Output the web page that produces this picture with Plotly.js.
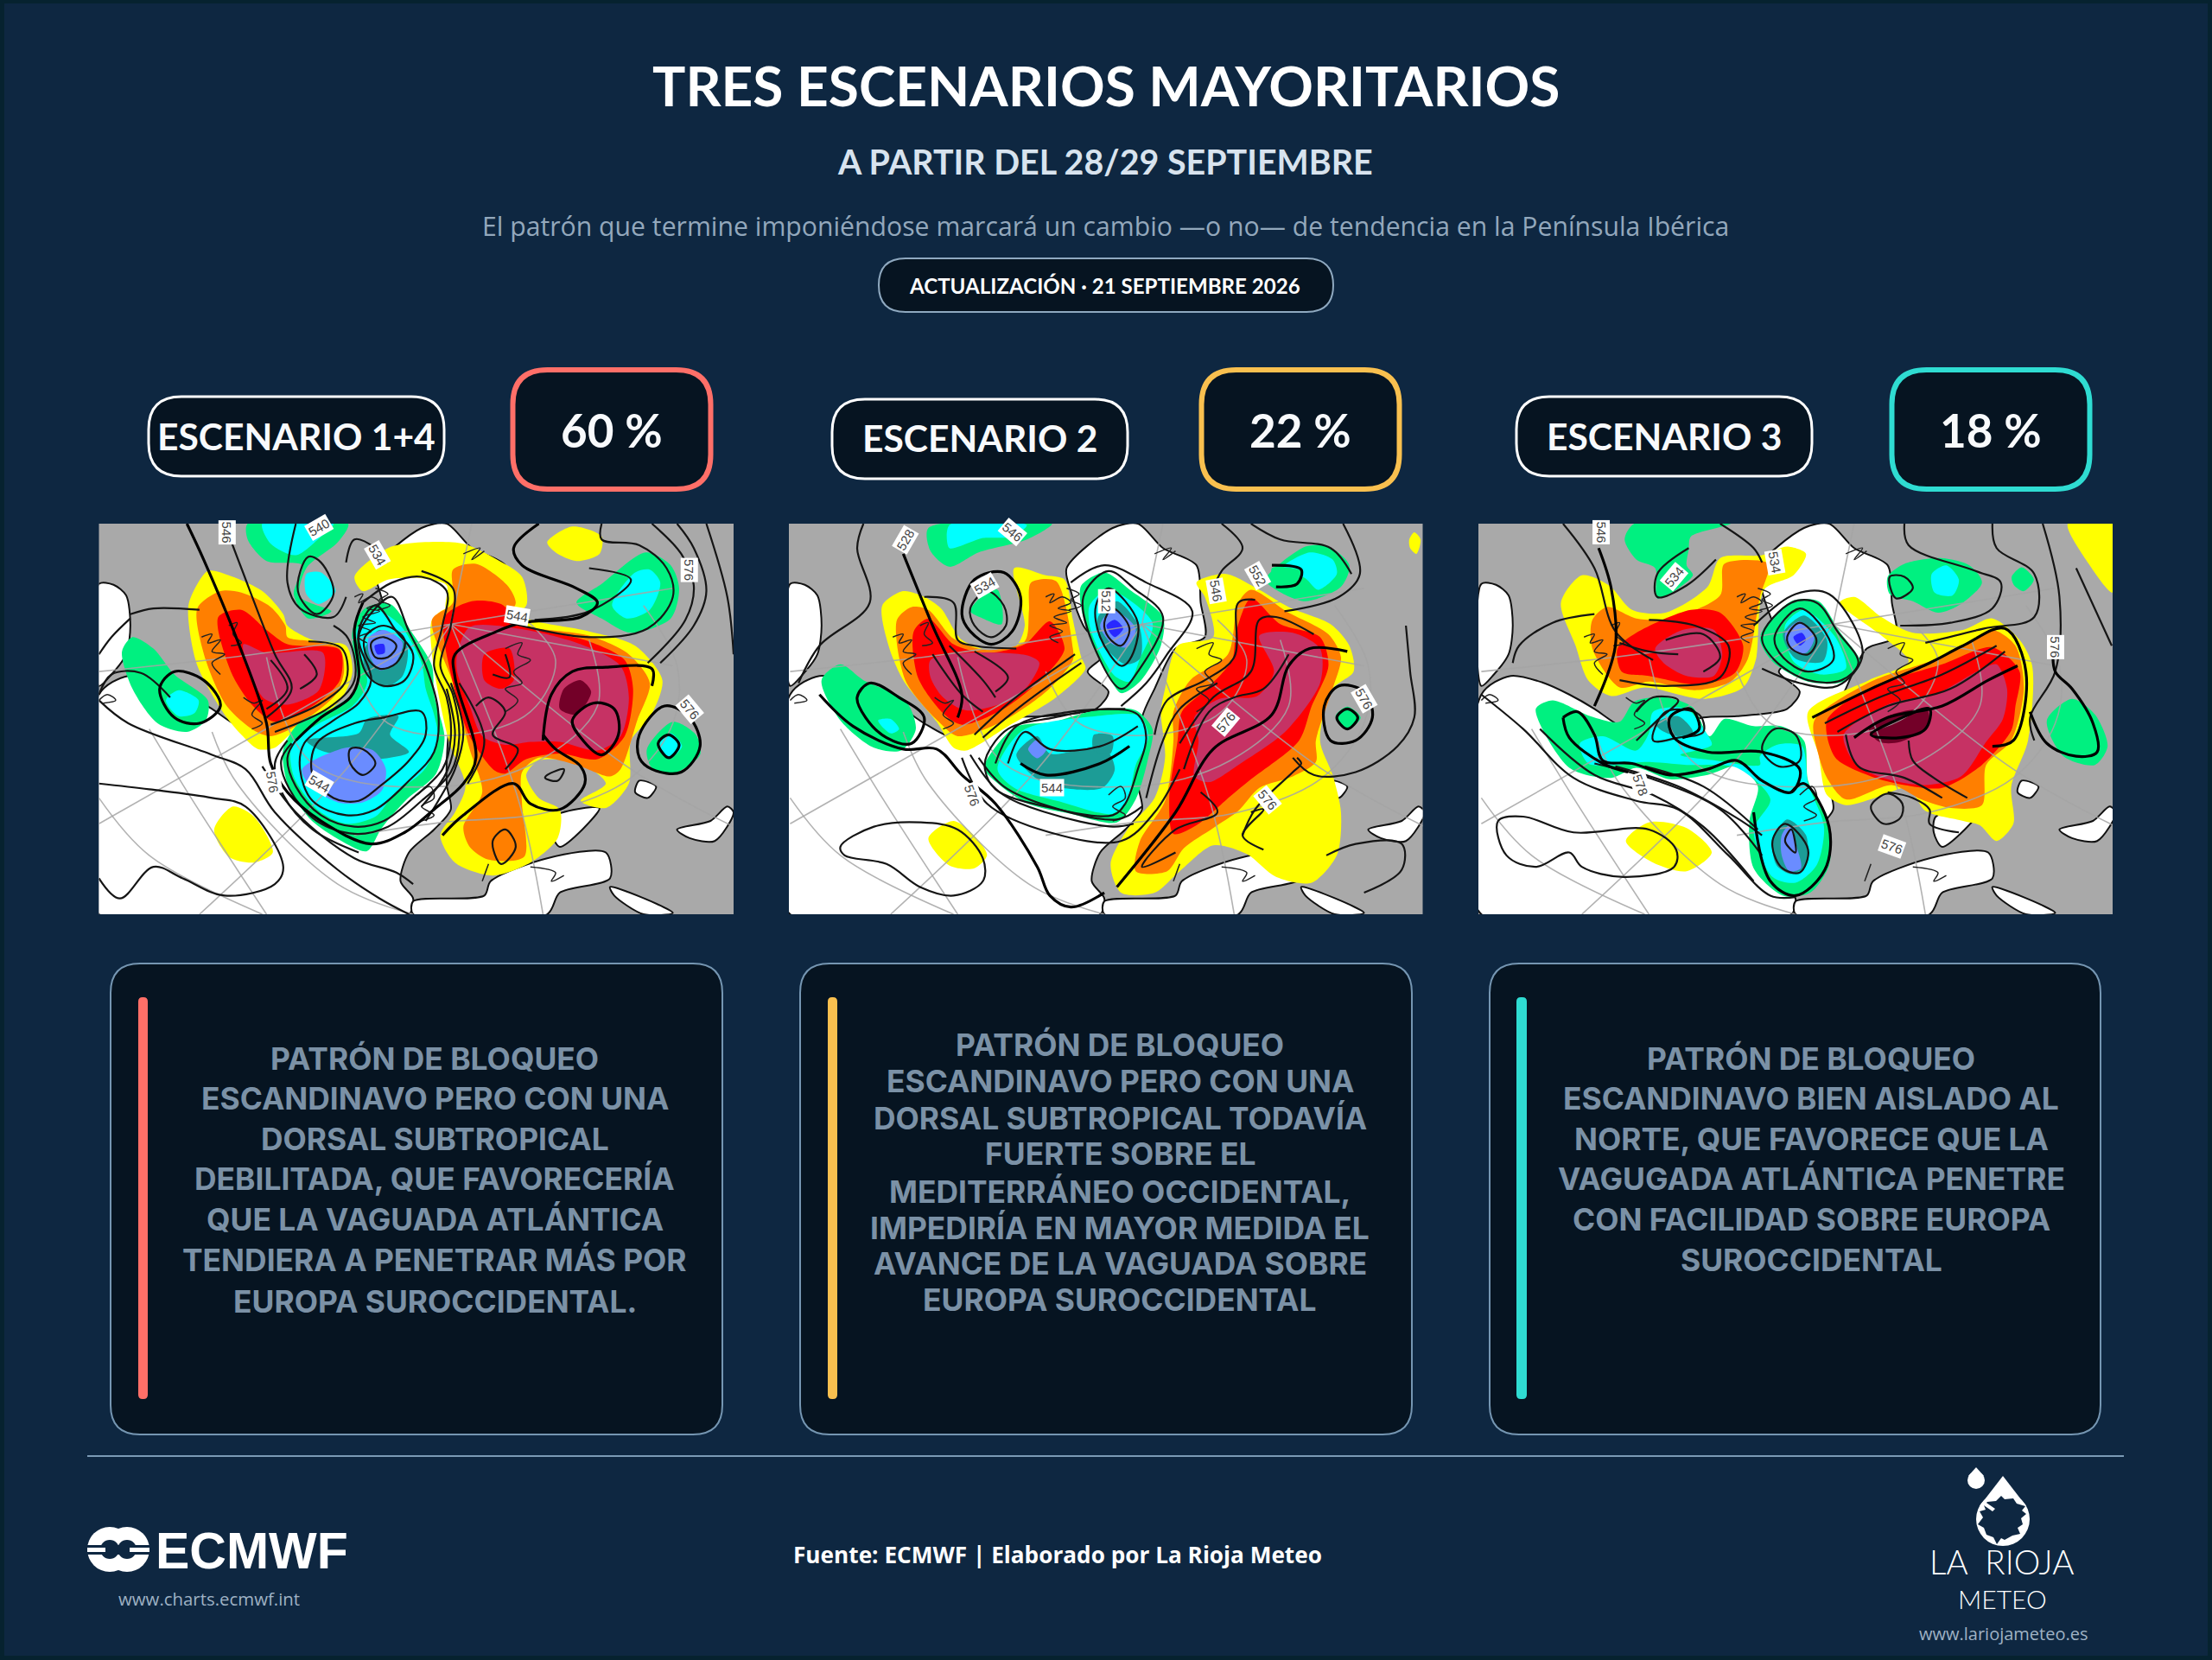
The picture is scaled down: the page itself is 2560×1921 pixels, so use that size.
<!DOCTYPE html>
<html>
<head>
<meta charset="utf-8">
<script src="https://cdn.plot.ly/plotly-3.0.1.min.js"></script>
<style>
html, body { margin: 0; padding: 0; background: #0e2741; }
#chart { width: 2560px; height: 1921px; }
.subplot .plot { filter: blur(1px); }
</style>
</head>
<body>
<div id="chart"></div>
<script>
// texts
var scenarioNames = ["ESCENARIO 1+4", "ESCENARIO 2", "ESCENARIO 3"];
var scenarioShares = ["60 %", "22 %", "18 %"];
var scenarioColors = ["#ff6f68", "#f9c04f", "#2fdcd2"];
var card1Lines = ["PATRÓN DE BLOQUEO", "ESCANDINAVO PERO CON UNA", "DORSAL SUBTROPICAL", "DEBILITADA, QUE FAVORECERÍA", "QUE LA VAGUADA ATLÁNTICA", "TENDIERA A PENETRAR MÁS POR", "EUROPA SUROCCIDENTAL."];
var card2Lines = ["PATRÓN DE BLOQUEO", "ESCANDINAVO PERO CON UNA", "DORSAL SUBTROPICAL TODAVÍA", "FUERTE SOBRE EL", "MEDITERRÁNEO OCCIDENTAL,", "IMPEDIRÍA EN MAYOR MEDIDA EL", "AVANCE DE LA VAGUADA SOBRE", "EUROPA SUROCCIDENTAL"];
var card3Lines = ["PATRÓN DE BLOQUEO", "ESCANDINAVO BIEN AISLADO AL", "NORTE, QUE FAVORECE QUE LA", "VAGUGADA ATLÁNTICA PENETRE", "CON FACILIDAD SOBRE EUROPA", "SUROCCIDENTAL"];

// base map, same for the three panels
var seaAreas = [
  [[30,255],[65,258],[95,295],[105,400],[95,500],[60,570],[30,610],[30,255]],
  [[30,640],[100,575],[180,600],[240,640],[300,690],[350,740],[420,790],[470,760],[560,720],[640,715],[760,690],[790,630],[740,560],[780,500],[730,400],[700,280],[690,200],[800,60],[860,45],[920,130],[1000,190],[1010,320],[1020,440],[950,480],[900,620],[870,720],[860,950],[870,1040],[830,1110],[770,1190],[750,1290],[780,1350],[770,1405],[30,1405],[30,640]],
  [[780,1360],[950,1340],[965,1290],[1100,1210],[1240,1190],[1250,1280],[1130,1330],[1100,1405],[780,1405],[780,1360]],
  [[1250,1310],[1400,1400],[1330,1405],[1260,1340],[1250,1310]],
  [[1410,1110],[1490,1080],[1530,1030],[1545,1050],[1500,1150],[1440,1140],[1410,1110]],
  [[1320,940],[1360,960],[1340,1000],[1310,980],[1320,940]],
  [[1115,1065],[1225,1035],[1130,1170],[1110,1120],[1115,1065]]
];
var coastLines = [
  [[640,300],[660,290],[650,320],[680,300],[700,320],[670,340],[700,350],[660,370],[690,390],[650,400],[680,420],[650,440],[670,460]],
  [[690,270],[720,290],[700,310],[725,330],[695,345]],
  [[275,440],[300,430],[290,460],[320,450],[300,490],[330,500],[300,530],[320,570]],
  [[340,400],[360,390],[350,430],[370,460],[345,470]],
  [[375,650],[400,670],[420,660],[395,710],[420,740],[395,760]],
  [[1000,480],[1040,460],[1030,500],[1060,520],[1020,560],[1040,600],[1000,620],[1030,660],[1000,700]],
  [[790,990],[820,960],[830,1000],[800,1030],[830,1060],[800,1080]],
  [[900,150],[940,130],[920,170],[950,140]],
  [[30,660],[50,640],[70,660],[40,670]],
  [[960,1230],[950,1270],[945,1290]],
  [[1060,1240],[1120,1260],[1110,1290],[1140,1270]]
];
var graticule = [
  [[870,395],[400,500],[30,560]],
  [[870,395],[380,800],[30,1090]],
  [[870,395],[620,900],[270,1405]],
  [[870,395],[1030,1000],[1090,1405]],
  [[870,395],[1300,900],[1545,1100]],
  [[870,395],[1400,540]],
  [[870,395],[1400,270]],
  [[870,395],[920,45]],
  [[150,760],[250,1000],[430,1405]],
  [[300,770],[360,950],[600,1300],[780,1405]],
  [[30,1000],[150,1200],[420,1405]],
  [[640,1130],[850,1085],[1100,1050],[1300,930],[1400,740],[1410,540],[1330,330]],
  [[430,510],[540,880],[850,960],[1080,870],[1220,680],[1200,450]],
  [[640,560],[720,740],[900,780],[1060,700],[1120,520],[1050,380]]
];

// map 1: fills
var m1Yellow = [
  [[245,320],[290,210],[340,225],[420,280],[470,360],[480,400],[540,450],[620,470],[635,560],[615,640],[560,725],[490,775],[450,825],[410,830],[370,780],[330,710],[265,540],[245,400],[245,320]],
  [[640,230],[720,130],[800,110],[900,115],[980,170],[1040,230],[1050,330],[1000,370],[860,350],[860,260],[800,235],[720,240],[660,280],[640,230]],
  [[825,500],[825,380],[860,340],[1010,340],[1060,380],[1200,420],[1310,470],[1375,590],[1345,720],[1300,800],[1295,950],[1240,1035],[1180,1010],[1240,950],[1180,880],[1080,870],[1050,920],[1080,1000],[1130,1040],[1125,1140],[1060,1225],[970,1270],[880,1225],[845,1130],[880,1050],[905,960],[865,800],[825,500]],
  [[1100,110],[1160,55],[1230,90],[1225,150],[1170,175],[1120,145],[1100,110]],
  [[305,1110],[350,1030],[400,1065],[445,1190],[400,1225],[340,1205],[305,1110]]
];
var m1Orange = [
  [[265,340],[320,280],[370,285],[440,335],[475,400],[480,440],[540,455],[605,480],[615,560],[595,640],[505,745],[440,785],[400,765],[335,680],[285,520],[265,340]],
  [[825,380],[875,320],[875,205],[930,185],[1005,260],[1025,320],[1005,385],[1200,435],[1295,500],[1345,600],[1315,730],[1275,900],[1250,925],[1170,885],[1080,860],[1040,910],[1040,1020],[1045,1205],[960,1215],[915,1170],[900,1100],[945,980],[915,830],[875,600],[825,380]]
];
var m1Red = [
  [[315,370],[370,345],[430,415],[480,465],[605,485],[605,590],[545,675],[450,735],[395,675],[345,560],[315,370]],
  [[855,370],[920,315],[990,325],[1040,395],[1200,455],[1285,520],[1305,620],[1285,785],[1220,865],[1130,845],[1050,865],[1000,915],[975,905],[915,785],[875,600],[855,370]]
];
var m1Crimson = [
  [[375,465],[430,495],[565,495],[555,625],[480,675],[425,655],[395,580],[375,465]],
  [[885,500],[915,405],[1050,415],[1180,465],[1275,540],[1295,650],[1275,785],[1220,835],[1130,805],[1060,805],[1000,815],[945,785],[915,680],[885,560],[885,500]]
];
var m1RedPatch = [[[950,500],[1010,480],[1020,590],[990,620],[950,590],[950,500]]];
var m1Maroon = [[[1140,620],[1180,590],[1205,630],[1170,710],[1130,690],[1140,620]]];
var m1Green = [
  [[85,490],[110,440],[160,480],[210,570],[290,660],[285,730],[240,770],[170,740],[110,620],[85,490]],
  [[385,45],[625,45],[600,110],[525,200],[510,300],[585,350],[530,375],[495,290],[515,190],[430,175],[385,100],[385,45]],
  [[635,420],[665,340],[725,325],[780,430],[825,540],[830,640],[855,790],[835,915],[765,1005],[705,1105],[670,1185],[615,1155],[535,1075],[480,950],[470,830],[510,735],[590,685],[645,620],[635,420]],
  [[1170,320],[1230,255],[1335,145],[1395,190],[1415,270],[1395,375],[1300,425],[1230,375],[1170,320]],
  [[1338,830],[1400,735],[1455,780],[1465,850],[1400,915],[1350,895],[1338,830]]
];
var m1Cyan = [
  [[190,660],[220,625],[268,660],[258,705],[220,715],[190,660]],
  [[420,45],[590,45],[560,90],[500,155],[440,115],[420,45]],
  [[525,220],[560,215],[595,280],[555,325],[525,290],[525,220]],
  [[645,420],[690,345],[750,400],[800,530],[810,620],[830,710],[840,800],[805,905],[735,985],[690,1065],[620,1090],[555,1045],[495,925],[490,810],[550,745],[635,680],[670,600],[645,420]],
  [[1255,330],[1310,215],[1345,205],[1370,250],[1345,345],[1290,375],[1255,330]],
  [[1368,810],[1395,775],[1422,820],[1390,865],[1368,810]]
];
var m1Teal = [
  [[665,480],[700,415],[765,470],[755,575],[710,615],[665,560],[665,480]],
  [[525,800],[650,775],[670,725],[745,715],[725,780],[770,840],[700,865],[660,865],[560,835],[525,800]]
];
var m1Blue = [
  [[675,440],[710,415],[755,460],[735,535],[700,555],[675,500],[675,440]],
  [[515,900],[620,825],[685,835],[715,900],[705,975],[660,1015],[600,1015],[535,960],[515,900]]
];
var m1DarkBlue = [[[688,470],[710,465],[712,495],[695,500],[688,470]]];
// map 1: geopotential contours
var m1Bold = [
  [[240,45],[280,170],[360,450],[430,740],[440,880],[480,980],[560,1080],[680,1160],[760,1120],[830,1040],[900,950],[930,860],[880,580],[880,500],[980,420],[1040,390],[1180,370],[1220,320],[1170,270],[1040,190],[1020,130],[1080,45]],
  [[175,620],[210,560],[280,590],[320,680],[270,740],[210,720],[175,620]],
  [[1320,860],[1320,780],[1380,680],[1440,720],[1465,820],[1420,910],[1350,900],[1320,860]],
  [[1365,810],[1390,780],[1415,815],[1390,860],[1365,810]],
  [[1090,780],[1120,830],[1180,890],[1190,950],[1130,1040],[1060,1020],[1020,950],[900,1060],[850,1130]],
  [[1090,800],[1110,640],[1160,560],[1240,545],[1350,550],[1350,610]],
  [[1160,730],[1210,670],[1260,690],[1270,780],[1230,850],[1180,790],[1160,730]],
  [[500,800],[560,720],[630,650],[650,580],[640,410],[660,320]]
];
var m1Thin = [
  [[500,800],[480,860],[500,960],[560,1060],[640,1100],[710,1080],[780,1000],[850,900],[870,790],[860,650],[830,540],[850,400],[860,280],[800,230],[730,250],[660,320]],
  [[490,810],[465,870],[485,970],[550,1080],[640,1125],[720,1100],[800,1010],[870,910],[890,790],[875,640],[845,540],[870,400],[875,270],[800,210]],
  [[480,800],[450,880],[470,990],[540,1110],[650,1190]],
  [[520,810],[590,730],[650,670],[680,590],[650,440],[690,340],[730,300],[770,420],[810,540],[840,700],[830,840],[770,940],[690,1040],[620,1060],[540,1010],[510,900],[520,810]],
  [[550,810],[640,740],[710,720],[800,700],[810,780],[770,870],[700,960],[650,1010],[590,1000],[540,920],[550,810]],
  [[630,830],[660,830],[690,880],[660,920],[630,880],[630,830]],
  [[665,440],[710,400],[760,450],[740,530],[700,550],[670,510],[665,440]],
  [[680,460],[710,440],[740,470],[720,510],[690,510],[680,460]],
  [[650,420],[690,330],[740,420],[780,500],[760,590],[710,610],[670,570],[650,420]],
  [[330,45],[370,200],[450,500],[490,620],[430,720]],
  [[440,745],[560,670],[620,590],[610,480],[530,455]],
  [[450,770],[580,685],[640,590],[625,445],[590,400]],
  [[440,520],[480,620],[430,690]],
  [[520,500],[550,570],[510,620]],
  [[105,360],[160,340],[270,345]],
  [[30,500],[60,440],[105,375]],
  [[1480,45],[1530,300],[1545,500]],
  [[1350,45],[1420,150],[1450,260],[1430,380],[1340,530]],
  [[1410,45],[1450,130],[1480,280],[1450,400],[1370,530]],
  [[1230,45],[1230,100],[1320,120],[1385,200],[1400,300],[1340,410],[1200,440],[1010,390]],
  [[1200,200],[1300,240],[1200,350],[1070,380]],
  [[30,640],[60,570],[130,565],[200,650]],
  [[30,950],[150,970],[300,1000],[380,1030],[470,1240],[450,1300],[330,1340],[230,1280],[160,1240],[80,1350],[30,1280]],
  [[30,660],[100,740],[300,850],[380,900],[450,1050],[600,1250],[700,1350],[770,1405]],
  [[420,890],[500,1050],[640,1210],[740,1260],[780,1300]],
  [[500,45],[480,250],[510,340],[590,370],[620,300]],
  [[530,160],[505,280],[550,360],[590,290],[560,180],[530,160]],
  [[620,180],[640,100],[690,130],[720,180]],
  [[970,1150],[1000,1110],[1025,1170],[990,1230],[970,1150]],
  [[930,680],[960,650],[1000,700],[970,780],[1030,830],[1000,900]],
  [[1000,500],[1010,580],[970,570]],
  [[870,600],[900,770],[880,900],[840,1010],[810,1080]],
  [[860,620],[880,780],[860,910],[800,1030]],
  [[910,950],[950,800],[890,600]],
  [[1100,920],[1140,900],[1125,940],[1095,930],[1100,920]]
];
var m1Labels = ["546", "540", "534", "544", "576", "576", "544", "576"];
var m1LabelX = [335, 555, 695, 1028, 1440, 1440, 555, 445];
var m1LabelY = [75, 60, 155, 365, 205, 690, 950, 945];
var m1LabelAngle = [90, -30, 60, 10, 90, 50, 30, 80];

// map 2: fills
var m2Yellow = [
  [[250,330],[300,280],[350,300],[390,340],[440,450],[520,490],[570,470],[590,400],[565,200],[640,225],[685,240],[705,380],[725,510],[735,550],[665,650],[545,755],[450,835],[420,825],[380,735],[300,590],[265,470],[250,330]],
  [[1000,250],[1070,220],[1150,275],[1220,335],[1320,395],[1365,470],[1375,560],[1325,620],[1295,800],[1325,920],[1345,1050],[1335,1200],[1275,1295],[1190,1275],[1120,1195],[1040,1165],[960,1255],[900,1330],[820,1330],[795,1230],[835,1110],[900,1000],[925,860],[915,700],[925,620],[955,470],[1040,440],[1020,300],[1000,250]],
  [[1508,100],[1520,75],[1535,100],[1525,150],[1510,130],[1508,100]],
  [[360,1140],[420,1080],[475,1140],[500,1200],[470,1245],[410,1235],[360,1140]]
];
var m2Orange = [
  [[285,380],[320,335],[360,345],[420,445],[500,485],[590,455],[600,350],[605,250],[665,245],[705,480],[705,520],[645,625],[535,735],[430,785],[385,735],[305,590],[285,380]],
  [[1100,320],[1130,275],[1220,355],[1315,430],[1345,510],[1325,620],[1285,800],[1285,875],[1230,925],[1150,965],[1100,1045],[1040,1105],[970,1175],[930,1255],[855,1255],[865,1150],[925,1010],[945,800],[945,700],[985,590],[1075,500],[1100,320]]
];
var m2Red = [
  [[325,420],[360,375],[420,465],[500,495],[590,465],[650,385],[685,480],[645,565],[545,685],[440,745],[395,705],[335,580],[325,420]],
  [[1095,420],[1130,305],[1200,395],[1295,440],[1315,540],[1275,680],[1245,800],[1130,935],[1080,995],[1000,1095],[945,1125],[935,1000],[955,800],[965,700],[1025,620],[1085,520],[1095,420]]
];
var m2Crimson = [
  [[365,520],[450,495],[600,505],[625,530],[575,645],[450,695],[395,650],[365,580],[365,520]],
  [[1150,435],[1230,425],[1295,480],[1295,600],[1215,765],[1100,885],[1030,945],[995,925],[1005,800],[995,720],[1055,655],[1145,645],[1185,560],[1150,435]]
];
var m2Green = [
  [[105,590],[150,535],[205,590],[305,660],[330,760],[295,835],[230,825],[150,730],[105,590]],
  [[360,60],[655,45],[595,100],[480,145],[410,195],[365,140],[360,60]],
  [[460,350],[490,295],[525,275],[535,395],[490,375],[460,350]],
  [[725,260],[780,215],[845,280],[920,370],[915,470],[865,595],[820,635],[785,560],[755,480],[725,340],[725,260]],
  [[495,880],[565,755],[660,735],[760,695],[855,695],[895,760],[885,860],[855,1005],[810,1085],[700,1055],[590,1015],[495,905],[495,880]],
  [[1165,240],[1260,125],[1315,125],[1365,190],[1345,265],[1260,315],[1190,275],[1165,240]],
  [[1332,715],[1360,682],[1392,720],[1360,763],[1332,715]]
];
var m2Cyan = [
  [[240,730],[270,725],[290,760],[270,775],[240,730]],
  [[410,50],[595,50],[560,90],[490,95],[460,110],[410,130],[410,50]],
  [[745,330],[790,275],[895,390],[865,515],[840,595],[805,575],[765,480],[745,400],[745,330]],
  [[525,900],[585,765],[760,715],[865,715],[885,790],[855,885],[835,1005],[800,1055],[680,1015],[565,965],[525,900]],
  [[1205,200],[1270,145],[1325,170],[1335,220],[1290,275],[1260,235],[1205,200]]
];
var m2Teal = [
  [[765,370],[810,315],[865,410],[865,515],[830,535],[785,480],[765,420],[765,370]],
  [[570,850],[620,785],[650,845],[780,825],[805,900],[775,965],[680,965],[620,935],[570,850]],
  [[755,780],[800,785],[795,845],[755,835],[755,780]]
];
var m2Blue = [
  [[770,400],[800,345],[855,410],[835,475],[800,465],[770,400]],
  [[598,830],[620,797],[642,830],[620,862],[598,830]]
];
var m2DarkBlue = [[[785,400],[805,380],[825,410],[805,440],[785,400]]];
var m2GreenTop = [[[1180,200],[1250,210],[1240,250],[1190,260],[1180,200]]];
// map 2: contours
var m2Bold = [
  [[300,150],[370,400],[440,640],[430,720]],
  [[440,360],[470,240],[540,215],[580,300],[560,420],[510,465],[460,420],[440,360]],
  [[100,640],[180,750],[300,830],[380,830],[440,920],[520,1020],[620,1240],[650,1340],[700,1380],[780,1330]],
  [[190,650],[220,600],[290,650],[350,720],[320,810],[260,790],[210,720],[190,650]],
  [[810,1310],[950,1050],[1040,830],[1180,710],[1220,540],[1270,480],[1360,490]],
  [[1305,680],[1340,610],[1400,630],[1420,720],[1380,800],[1320,800],[1305,680]],
  [[1335,720],[1360,690],[1385,720],[1360,760],[1335,720]],
  [[580,880],[640,920],[770,880],[840,820]],
  [[1180,190],[1250,205],[1240,255],[1190,265]]
];
var m2Thin = [
  [[205,45],[190,130],[220,320],[100,470],[50,600]],
  [[460,340],[500,280],[540,330],[545,400],[510,440],[470,400],[460,340]],
  [[500,850],[550,760],[660,720],[790,690],[860,710],[880,790],[860,900],[830,1020],[800,1060],[640,1030],[520,970],[495,900],[500,850]],
  [[550,880],[590,770],[650,830],[770,820],[860,750]],
  [[520,880],[570,750],[700,700],[830,690]],
  [[470,780],[560,660],[710,500]],
  [[490,790],[590,670],[725,530]],
  [[460,850],[530,980],[640,1050],[800,1100],[850,1090]],
  [[480,860],[540,960],[650,1030],[810,1075],[870,1030]],
  [[440,860],[500,1020],[650,1120],[820,1150],[900,1050],[960,900]],
  [[730,300],[790,210],[850,270],[920,370],[860,560],[820,620],[770,520],[730,300]],
  [[760,330],[790,270],[860,390],[840,520],[820,540],[770,440],[760,330]],
  [[780,390],[800,340],[840,410],[820,470],[790,440],[780,390]],
  [[700,250],[780,190],[880,250],[990,350],[930,500],[880,600],[820,680]],
  [[900,780],[930,660],[1020,590],[1090,510],[1100,320],[1140,310]],
  [[880,1000],[920,800],[960,690],[1050,600]],
  [[1010,980],[1050,1050],[950,1110],[870,1240],[950,1190]],
  [[960,810],[1040,650],[1130,560],[1150,380],[1190,370],[1280,430]],
  [[970,900],[1030,700],[1090,650],[1160,620],[1220,500]],
  [[1500,400],[1510,560],[1520,720],[1480,820],[1380,910],[1280,920],[1230,860]],
  [[1350,45],[1390,220],[1340,300],[1210,350]],
  [[1130,45],[1200,100],[1320,130],[1370,220]],
  [[1060,45],[1110,130],[1060,210],[1040,270]],
  [[350,300],[420,320],[430,450],[470,470],[570,480]],
  [[370,500],[440,640],[490,700]],
  [[410,470],[490,590],[520,650]],
  [[470,490],[550,580],[520,630]],
  [[150,1170],[230,1100],[340,1085],[430,1110],[490,1210],[490,1290],[420,1340],[340,1310],[260,1230],[160,1200],[150,1170]],
  [[1130,1050],[1160,1040],[1110,1130],[1160,1180]],
  [[1240,860],[1250,880],[1230,910],[1140,1040],[1110,1130]],
  [[1310,1200],[1380,1160],[1490,1160],[1490,1250],[1400,1330]]
];
var m2Labels = ["528", "546", "534", "512", "546", "552", "576", "576", "544", "576", "576"];
var m2LabelX = [305, 560, 495, 785, 1048, 1145, 1400, 1070, 655, 1170, 465];
var m2LabelY = [100, 75, 260, 315, 280, 225, 655, 735, 965, 1005, 990];
var m2LabelAngle = [-60, 40, -30, 90, 80, 60, 60, -50, 0, 50, 70];

// map 3: fills
var m3Yellow = [
  [[220,320],[270,225],[335,260],[390,345],[470,355],[570,265],[600,165],[700,155],[760,125],[805,150],[775,225],[705,275],[685,520],[655,615],[560,655],[420,615],[340,645],[285,590],[255,470],[220,320]],
  [[885,320],[920,300],[985,370],[1060,425],[1180,415],[1250,375],[1315,450],[1345,540],[1335,800],[1295,960],[1300,1090],[1260,1150],[1220,1095],[1180,1080],[1090,1045],[1050,965],[980,995],[900,1025],[855,990],[835,850],[810,700],[955,590],[1050,525],[985,435],[885,320]],
  [[375,1150],[430,1085],[520,1105],[580,1190],[520,1255],[440,1225],[375,1150]],
  [[1430,45],[1537,45],[1537,285],[1480,185],[1430,45]]
];
var m3Orange = [
  [[295,380],[330,335],[400,375],[480,375],[600,295],[610,185],[715,185],[695,300],[665,520],[625,595],[540,625],[430,595],[360,615],[295,480],[295,380]],
  [[825,730],[960,595],[1100,525],[1180,475],[1250,415],[1305,470],[1325,620],[1295,800],[1235,885],[1225,1025],[1150,1035],[1080,1005],[1010,955],[900,1005],[855,930],[835,850],[825,730]]
];
var m3Red = [
  [[355,480],[400,425],[530,345],[600,355],[655,470],[635,565],[550,605],[430,575],[365,560],[355,480]],
  [[855,730],[960,615],[1130,535],[1250,475],[1315,560],[1305,680],[1295,765],[1225,885],[1130,965],[1040,955],[960,925],[875,860],[855,730]]
];
var m3Crimson = [
  [[445,480],[510,415],[585,415],[605,500],[585,575],[520,575],[465,530],[445,480]],
  [[895,780],[1000,675],[1120,635],[1220,555],[1260,535],[1285,620],[1275,725],[1235,805],[1175,925],[1090,955],[1000,935],[925,885],[895,780]]
];
var m3Maroon = [[[955,760],[1020,705],[1095,695],[1095,750],[1030,805],[980,805],[955,760]]];
var m3Green = [
  [[372,100],[395,45],[625,45],[530,90],[525,135],[520,190],[535,225],[450,305],[445,200],[400,170],[372,100]],
  [[1000,230],[1040,185],[1130,165],[1195,190],[1225,250],[1175,325],[1120,355],[1060,315],[1005,290],[1000,230]],
  [[1296,230],[1320,197],[1349,240],[1325,280],[1302,260],[1296,230]],
  [[1380,730],[1440,655],[1495,710],[1525,820],[1495,885],[1420,855],[1380,730]],
  [[695,440],[770,315],[835,315],[885,420],[935,530],[895,595],[810,595],[725,525],[695,440]],
  [[160,690],[200,660],[290,715],[360,735],[395,665],[470,650],[535,685],[575,785],[610,725],[680,750],[745,750],[800,800],[810,940],[860,1100],[860,1235],[815,1330],[750,1340],[680,1245],[670,1080],[690,960],[640,890],[570,920],[480,935],[400,895],[340,930],[240,895],[160,690]]
];
var m3Cyan = [
  [[1105,220],[1140,190],[1170,240],[1155,295],[1112,285],[1105,220]],
  [[755,400],[800,345],[875,440],[900,550],[840,570],[775,525],[755,400]],
  [[265,810],[320,785],[400,835],[430,775],[440,700],[520,690],[565,770],[580,815],[505,850],[590,870],[695,885],[695,855],[735,815],[795,820],[810,950],[848,1100],[830,1235],[780,1295],[725,1275],[680,1110],[720,1005],[640,895],[520,885],[420,875],[350,885],[285,880],[265,810]]
];
var m3Teal = [
  [[750,430],[800,365],[855,450],[845,525],[780,515],[750,430]],
  [[445,740],[500,715],[535,770],[500,785],[460,765],[445,740]],
  [[725,1150],[760,1075],[805,1130],[805,1235],[770,1265],[735,1235],[725,1150]]
];
var m3Blue = [
  [[755,430],[790,385],[825,440],[805,495],[770,485],[755,430]],
  [[747,1130],[765,1095],[783,1170],[793,1245],[765,1255],[747,1200],[747,1130]]
];
var m3DarkBlue = [[[775,440],[795,425],[805,450],[790,470],[775,440]]];
// map 3: contours
var m3Bold = [
  [[310,130],[340,270],[350,470],[300,680]],
  [[225,720],[260,700],[300,780],[320,870],[390,880],[480,920],[570,900],[640,870],[700,940],[770,980],[790,900],[700,840],[570,840],[490,790],[480,720],[530,690],[550,760],[510,790]],
  [[820,720],[960,620],[1100,530],[1180,470],[1280,410],[1330,560],[1300,800],[1250,820]],
  [[225,720],[240,790],[320,880],[380,910]],
  [[1340,700],[1380,810],[1450,855],[1500,840],[1490,740],[1440,620],[1400,560],[1395,480]],
  [[920,790],[1000,720],[1130,680],[1240,590],[1310,540]],
  [[960,780],[1020,730],[1100,690],[1090,760],[1030,790],[960,780]],
  [[680,1050],[720,1290],[780,1340],[850,1250],[860,1100],[800,950],[770,980]]
];
var m3Thin = [
  [[225,45],[300,200],[350,420],[440,520]],
  [[600,45],[680,130],[700,180]],
  [[525,130],[450,220],[450,300],[520,260],[590,170]],
  [[105,530],[120,470],[200,390],[300,360]],
  [[700,440],[770,320],[830,320],[880,420],[930,530],[890,590],[810,590],[730,520],[700,440]],
  [[730,440],[790,340],[850,420],[870,520],[810,560],[750,510],[730,440]],
  [[760,440],[790,390],[830,450],[810,500],[770,480],[760,440]],
  [[680,400],[780,290],[860,290],[940,500],[880,610],[790,600],[700,550]],
  [[30,640],[130,760],[250,930],[400,1010],[500,1040],[620,1200],[720,1340],[780,1345]],
  [[170,760],[300,920],[440,990],[560,1100],[680,1290]],
  [[300,880],[450,940],[600,1040],[700,1200]],
  [[350,890],[500,960],[640,1070],[700,1130]],
  [[420,890],[560,960],[690,1110]],
  [[400,800],[450,730],[500,660],[440,650],[400,700]],
  [[440,800],[470,700],[550,710],[560,770],[500,790],[440,800]],
  [[725,1150],[755,1090],[810,1180],[790,1260],[745,1240],[725,1150]],
  [[755,1150],[770,1110],[780,1190],[755,1150]],
  [[700,830],[730,760],[780,780],[790,870],[740,890],[700,830]],
  [[960,1030],[1000,985],[1035,1020],[1030,1070],[990,1090],[960,1030]],
  [[70,1080],[130,1065],[250,1120],[430,1110],[495,1180],[490,1240],[370,1275],[270,1240],[240,1190],[160,1240],[90,1200],[70,1080]],
  [[1040,45],[1050,120],[1210,210],[1270,250],[1250,340],[1150,390],[1030,400]],
  [[1250,45],[1260,130],[1350,220],[1350,370],[1230,410],[1090,460]],
  [[1370,45],[1410,300],[1400,560],[1340,720],[1350,800]],
  [[1450,200],[1535,470]],
  [[1005,230],[1040,230],[1060,270],[1020,305],[1005,230]],
  [[1000,980],[1060,1000],[1100,1040],[1100,1090],[1170,1120]],
  [[900,780],[930,890],[1040,930],[1130,1000]],
  [[1050,800],[1060,870],[1110,930],[1190,1000]],
  [[850,740],[980,650],[1130,570],[1260,470]],
  [[880,770],[1000,680],[1150,620],[1280,490]],
  [[430,380],[540,400],[620,470],[600,580],[470,610],[360,590]],
  [[470,450],[560,430],[600,510],[560,560]],
  [[360,460],[430,490],[500,500]]
];
var m3Labels = ["546", "534", "534", "576", "578", "576"];
var m3LabelX = [315, 490, 730, 1400, 410, 1010];
var m3LabelY = [75, 230, 180, 475, 955, 1170];
var m3LabelAngle = [90, -50, 80, 90, 70, 20];

var colYellow = "#ffff00", colOrange = "#ff7f00", colRed = "#ff0000", colCrimson = "#c63264", colMaroon = "#730028";
var colGreen = "#00f080", colCyan = "#00ffff", colTeal = "#1c9c96", colBlue = "#6a8cff", colDarkBlue = "#2828ff";

var W = 2560, H = 1921;
var bg = "#0e2741", cardBg = "#061421", cardLine = "#7596b2";
function px(x) { return x / W; }
function py(y) { return 1 - y / H; }
function pt(x, y) { return px(x) + "," + py(y); }

// rounded box as a paper path
function box(x0, y0, x1, y1, r, fill, line, lw) {
  var p = "M" + pt(x0 + r, y0) + " L" + pt(x1 - r, y0) + " Q" + pt(x1, y0) + " " + pt(x1, y0 + r) +
    " L" + pt(x1, y1 - r) + " Q" + pt(x1, y1) + " " + pt(x1 - r, y1) +
    " L" + pt(x0 + r, y1) + " Q" + pt(x0, y1) + " " + pt(x0, y1 - r) +
    " L" + pt(x0, y0 + r) + " Q" + pt(x0, y0) + " " + pt(x0 + r, y0) + " Z";
  return {type: "path", xref: "paper", yref: "paper", path: p, fillcolor: fill, layer: "below", line: {color: line || fill, width: lw || 0}};
}
function rect(x0, y0, x1, y1, fill, layer) {
  return {type: "rect", xref: "paper", yref: "paper", x0: px(x0), x1: px(x1), y0: py(y0), y1: py(y1), fillcolor: fill, layer: layer || "below", line: {width: 0}};
}
function circle(cx, cy, r, fill) {
  return {type: "circle", xref: "paper", yref: "paper", x0: px(cx - r), x1: px(cx + r), y0: py(cy - r), y1: py(cy + r), fillcolor: fill, layer: "below", line: {width: 0}};
}
function poly(pts, fill) {
  var p = "M" + pts.map(function(q) { return pt(q[0], q[1]); }).join(" L") + " Z";
  return {type: "path", xref: "paper", yref: "paper", path: p, fillcolor: fill, layer: "below", line: {width: 0}};
}
function txt(s, x, y, size, color, family, weight) {
  return {xref: "paper", yref: "paper", x: px(x), y: py(y), text: s, showarrow: false, xanchor: "center", yanchor: "middle",
    font: {size: size, color: color, family: family, weight: weight || 400}};
}

var shapes = [];
var annotations = [];

// frame and header
shapes.push(rect(5, 4, 2555, 1916, bg));
annotations.push(txt("TRES ESCENARIOS MAYORITARIOS", 1280, 98, 64, "#ffffff", "Lato", 700));
annotations.push(txt("A PARTIR DEL 28/29 SEPTIEMBRE", 1279, 186, 39.4, "#d8e3ee", "Lato", 700));
annotations.push(txt("El patrón que termine imponiéndose marcará un cambio —o no— de tendencia en la Península Ibérica", 1279, 262, 30.2, "#93a8bc", "Open Sans", 400));
shapes.push(box(1017, 299, 1543, 361, 31, cardBg, "#8fa9c0", 2));
annotations.push(txt("ACTUALIZACIÓN · 21 SEPTIEMBRE 2026", 1278, 330, 24.1, "#ffffff", "Lato", 700));

// scenario headers
var nameBoxX = [[172, 514], [963, 1305], [1755, 2097]];
var nameBoxY = [[459, 551], [462, 554], [459, 551]];
var shareBoxX = [[592, 824], [1389, 1621], [2188, 2420]];
for (let i = 0; i < 3; ++i) {
  shapes.push(box(nameBoxX[i][0], nameBoxY[i][0], nameBoxX[i][1], nameBoxY[i][1], 38, cardBg, "#ffffff", 3));
  annotations.push(txt(scenarioNames[i], (nameBoxX[i][0] + nameBoxX[i][1]) / 2, (nameBoxY[i][0] + nameBoxY[i][1]) / 2 - 1, 42.6, "#f8fafc", "Lato", 700));
  shapes.push(box(shareBoxX[i][0] + 1.5, 428, shareBoxX[i][1] - 1.5, 566, 40, cardBg, scenarioColors[i], 6));
  annotations.push(txt(scenarioShares[i], (shareBoxX[i][0] + shareBoxX[i][1]) / 2, 497, 53, "#f8fafc", "Lato", 700));
}

// text cards
var cardX = [[128, 836], [926, 1634], [1724, 2431]];
var barX = [[160, 171], [958, 969], [1755, 1767]];
var cardTextX = [503, 1296, 2096];
var cardLines = [card1Lines, card2Lines, card3Lines];
var cardLineY = [
  [1225, 1271, 1318, 1364, 1411, 1458, 1506],
  [1209, 1251, 1294, 1335, 1379, 1421, 1462, 1504],
  [1225, 1271, 1318, 1364, 1411, 1458]
];
for (let i = 0; i < 3; ++i) {
  shapes.push(box(cardX[i][0], 1115, cardX[i][1], 1660, 34, cardBg, cardLine, 2));
  shapes.push(box(barX[i][0], 1154, barX[i][1], 1619, 5, scenarioColors[i]));
  for (let j = 0; j < cardLines[i].length; ++j) {
    annotations.push(txt(cardLines[i][j], cardTextX[i], cardLineY[i][j], 35.4, "#7b91a6", "Inter", 700));
  }
}

// footer
shapes.push(rect(101, 1684, 2458, 1686, "#7b9ab5"));
annotations.push(txt("Fuente: ECMWF | Elaborado por La Rioja Meteo", 1224, 1799, 26.2, "#ffffff", "Open Sans", 700));
annotations.push(txt("www.charts.ecmwf.int", 242, 1850, 20.4, "#9fb2c4", "Open Sans", 400));
annotations.push(txt("ECMWF", 291, 1795, 59, "#ffffff", "Liberation Sans", 700));
annotations.push(txt("LA  RIOJA", 2316, 1807, 38.5, "#ffffff", "Lato", 300));
annotations.push(txt("METEO", 2317, 1850, 30, "#ffffff", "Lato", 300));
annotations.push(txt("www.lariojameteo.es", 2318, 1890, 20, "#9fb2c4", "Open Sans", 400));

// ECMWF mark
shapes.push(circle(127, 1793, 26, "#ffffff"));
shapes.push(circle(147, 1793, 26, "#ffffff"));
shapes.push(rect(101, 1788, 173, 1799, bg));
shapes.push(circle(127, 1793, 11, bg));
shapes.push(circle(147, 1793, 11, bg));
shapes.push(rect(101, 1791, 122, 1796, "#ffffff"));
shapes.push(rect(150, 1791, 173, 1796, "#ffffff"));

// La Rioja mark
shapes.push(circle(2287, 1713, 10, "#ffffff"));
shapes.push(poly([[2287, 1698], [2278, 1708], [2296, 1708]], "#ffffff"));
shapes.push(circle(2318, 1758, 31, "#ffffff"));
shapes.push(poly([[2318, 1708], [2291, 1743], [2345, 1743]], "#ffffff"));
shapes.push(poly([[2300, 1738], [2310, 1737], [2316, 1731], [2320, 1735], [2330, 1734], [2334, 1740], [2344, 1743], [2340, 1748],
  [2345, 1752], [2339, 1757], [2341, 1764], [2335, 1768], [2338, 1775], [2329, 1777], [2320, 1782], [2316, 1780], [2311, 1787],
  [2307, 1779], [2299, 1776], [2296, 1768], [2289, 1764], [2295, 1756], [2291, 1749], [2298, 1747], [2296, 1742]], bg));
shapes.push(poly([[2293, 1740], [2296, 1737], [2309, 1746], [2306, 1749]], "#ffffff"));

// maps
var mapPx = [[114.5, 849], [913, 1646.5], [1711, 2445]];
var mapRange = [[30, 1545], [27, 1540], [23, 1537]];
var mapFills = [
  [[m1Yellow, colYellow], [m1Orange, colOrange], [m1Red, colRed], [m1Crimson, colCrimson], [m1RedPatch, colRed], [m1Maroon, colMaroon],
   [m1Green, colGreen], [m1Cyan, colCyan], [m1Teal, colTeal], [m1Blue, colBlue], [m1DarkBlue, colDarkBlue]],
  [[m2Yellow, colYellow], [m2Orange, colOrange], [m2Red, colRed], [m2Crimson, colCrimson],
   [m2Green, colGreen], [m2Cyan, colCyan], [m2Teal, colTeal], [m2Blue, colBlue], [m2DarkBlue, colDarkBlue], [m2GreenTop, colGreen]],
  [[m3Yellow, colYellow], [m3Orange, colOrange], [m3Red, colRed], [m3Crimson, colCrimson], [m3Maroon, colMaroon],
   [m3Green, colGreen], [m3Cyan, colCyan], [m3Teal, colTeal], [m3Blue, colBlue], [m3DarkBlue, colDarkBlue]]
];
var mapBold = [m1Bold, m2Bold, m3Bold];
var mapThin = [m1Thin, m2Thin, m3Thin];
var mapLabels = [m1Labels, m2Labels, m3Labels];
var mapLabelX = [m1LabelX, m2LabelX, m3LabelX];
var mapLabelY = [m1LabelY, m2LabelY, m3LabelY];
var mapLabelAngle = [m1LabelAngle, m2LabelAngle, m3LabelAngle];

var traces = [];
function xs(p) { return p.map(function(q) { return q[0]; }); }
function ys(p) { return p.map(function(q) { return q[1]; }); }
function area(p, ax, ay, color, lineColor, lineWidth) {
  traces.push({type: "scatter", mode: "lines", x: xs(p), y: ys(p), xaxis: ax, yaxis: ay, fill: "toself", fillcolor: color,
    line: {shape: "spline", smoothing: 0.8, color: lineColor || color, width: lineWidth || 0}, hoverinfo: "skip"});
}
function stroke(p, ax, ay, color, width, shape) {
  traces.push({type: "scatter", mode: "lines", x: xs(p), y: ys(p), xaxis: ax, yaxis: ay,
    line: {shape: shape || "spline", smoothing: 1, color: color, width: width}, hoverinfo: "skip"});
}

var layout = {
  width: W, height: H, autosize: false,
  margin: {l: 0, r: 0, t: 0, b: 0, pad: 0},
  paper_bgcolor: "#06222f", plot_bgcolor: "rgba(0,0,0,0)",
  showlegend: false, shapes: shapes, annotations: annotations
};

for (let i = 0; i < 3; ++i) {
  var n = i == 0 ? "" : String(i + 1);
  var ax = "x" + n, ay = "y" + n;
  layout["xaxis" + n] = {domain: [px(mapPx[i][0]), px(mapPx[i][1])], range: mapRange[i], visible: false, fixedrange: true, anchor: ay};
  layout["yaxis" + n] = {domain: [py(1058), py(606)], range: [1405, 45], visible: false, fixedrange: true, anchor: ax};
  shapes.push(rect(mapPx[i][0], 606, mapPx[i][1], 1058, "#a9a9a9"));

  seaAreas.forEach(function(p) { area(p, ax, ay, "#ffffff", "#111111", 2); });
  mapFills[i].forEach(function(layer) {
    layer[0].forEach(function(p) { area(p, ax, ay, layer[1]); });
  });
  graticule.forEach(function(p) { stroke(p, ax, ay, "rgba(165,165,165,0.85)", 1.6); });
  coastLines.forEach(function(p) { stroke(p, ax, ay, "#222222", 1.5, "spline"); });
  mapThin[i].forEach(function(p) { stroke(p, ax, ay, "#151515", 2.2); });
  mapBold[i].forEach(function(p) { stroke(p, ax, ay, "#000000", 3.2); });
  for (let j = 0; j < mapLabels[i].length; ++j) {
    annotations.push({xref: ax, yref: ay, x: mapLabelX[i][j], y: mapLabelY[i][j], text: mapLabels[i][j], showarrow: false,
      textangle: mapLabelAngle[i][j], bgcolor: "#ffffff", borderpad: 1,
      font: {size: 15, color: "#444444", family: "Liberation Sans"}});
  }
}

Plotly.newPlot("chart", traces, layout, {displayModeBar: false, staticPlot: true});
</script>
</body>
</html>
